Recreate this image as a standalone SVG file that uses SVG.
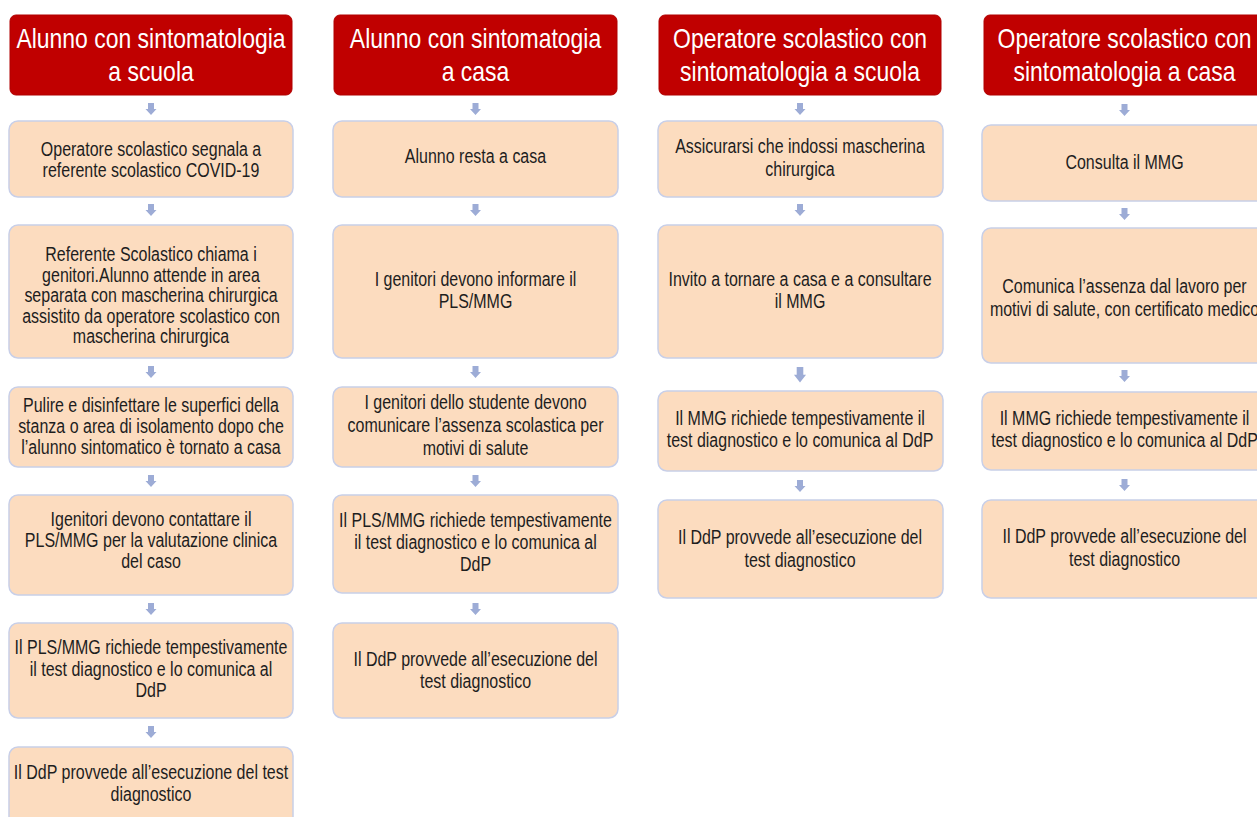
<svg xmlns="http://www.w3.org/2000/svg" xmlns:xlink="http://www.w3.org/1999/xlink" width="1257" height="817" viewBox="0 0 1257 817">
<style>
.hd{fill:#c00000;stroke:#b00000;stroke-width:1}
.bx{fill:#fcdcbf;stroke:#c8cfe8;stroke-width:1.5}
.ht{font-family:"Liberation Sans",Arial,sans-serif;font-size:28px;fill:#ffffff;text-anchor:middle}
.t{font-family:"Liberation Sans",Arial,sans-serif;font-size:19.5px;fill:#1e1e1e;text-anchor:middle}
.ar{fill:#9dacd6}
</style>
<defs>
<path id="arr" d="M-3,0 H3 V6 H5.5 L0,12 L-5.5,6 H-3 Z"/>
</defs>
<rect width="1257" height="817" fill="#ffffff"/>

<g id="connectors" class="ar">
<use xlink:href="#arr" href="#arr" x="151" y="103"/>
<use xlink:href="#arr" href="#arr" x="151" y="204"/>
<use xlink:href="#arr" href="#arr" x="151" y="366"/>
<use xlink:href="#arr" href="#arr" x="151" y="475"/>
<use xlink:href="#arr" href="#arr" x="151" y="603"/>
<use xlink:href="#arr" href="#arr" x="151" y="726"/>
<use xlink:href="#arr" href="#arr" x="475.5" y="103"/>
<use xlink:href="#arr" href="#arr" x="475.5" y="204"/>
<use xlink:href="#arr" href="#arr" x="475.5" y="366"/>
<use xlink:href="#arr" href="#arr" x="475.5" y="475"/>
<use xlink:href="#arr" href="#arr" x="475.5" y="603"/>
<use xlink:href="#arr" href="#arr" x="800" y="103"/>
<use xlink:href="#arr" href="#arr" x="800" y="204"/>
<g transform="translate(800 367) scale(1.1 1.3)"><use xlink:href="#arr" href="#arr"/></g>
<use xlink:href="#arr" href="#arr" x="800" y="480"/>
<use xlink:href="#arr" href="#arr" x="1124.5" y="104"/>
<use xlink:href="#arr" href="#arr" x="1124.5" y="208"/>
<use xlink:href="#arr" href="#arr" x="1124.5" y="370"/>
<use xlink:href="#arr" href="#arr" x="1124.5" y="479"/>
</g>

<!-- Column 1 -->
<g id="h1"><rect class="hd" x="10" y="15" width="282" height="80" rx="6"/>
<text class="ht" transform="translate(151 0) scale(0.82 1)"><tspan x="0" y="48">Alunno con sintomatologia</tspan><tspan x="0" y="81">a scuola</tspan></text></g>
<g id="c1b1"><rect class="bx" x="9" y="121" width="284" height="76" rx="9"/>
<text class="t" transform="translate(151 0) scale(0.82 1)"><tspan x="0" y="156">Operatore scolastico segnala a</tspan><tspan x="0" y="177">referente scolastico COVID-19</tspan></text></g>
<g id="c1b2"><rect class="bx" x="9" y="225" width="284" height="133" rx="9"/>
<text class="t" transform="translate(151 0) scale(0.82 1)"><tspan x="0" y="261">Referente Scolastico chiama i</tspan><tspan x="0" y="282">genitori.Alunno attende in area</tspan><tspan x="0" y="302">separata con mascherina chirurgica</tspan><tspan x="0" y="323">assistito da operatore scolastico con</tspan><tspan x="0" y="343">mascherina chirurgica</tspan></text></g>
<g id="c1b3"><rect class="bx" x="9" y="387" width="284" height="80" rx="9"/>
<text class="t" transform="translate(151 0) scale(0.82 1)"><tspan x="0" y="412">Pulire e disinfettare le superfici della</tspan><tspan x="0" y="433">stanza o area di isolamento dopo che</tspan><tspan x="0" y="454">l’alunno sintomatico è tornato a casa</tspan></text></g>
<g id="c1b4"><rect class="bx" x="9" y="495" width="284" height="100" rx="9"/>
<text class="t" transform="translate(151 0) scale(0.82 1)"><tspan x="0" y="526">Igenitori devono contattare il</tspan><tspan x="0" y="547">PLS/MMG per la valutazione clinica</tspan><tspan x="0" y="568">del caso</tspan></text></g>
<g id="c1b5"><rect class="bx" x="9" y="623" width="284" height="95" rx="9"/>
<text class="t" transform="translate(151 0) scale(0.82 1)"><tspan x="0" y="654">Il PLS/MMG richiede tempestivamente</tspan><tspan x="0" y="676">il test diagnostico e lo comunica al</tspan><tspan x="0" y="697">DdP</tspan></text></g>
<g id="c1b6"><rect class="bx" x="9" y="747" width="284" height="90" rx="9"/>
<text class="t" transform="translate(151 0) scale(0.82 1)"><tspan x="0" y="779">Il DdP provvede all’esecuzione del test</tspan><tspan x="0" y="801">diagnostico</tspan></text></g>

<!-- Column 2 -->
<g id="h2"><rect class="hd" x="334" y="15" width="283" height="80" rx="6"/>
<text class="ht" transform="translate(475.5 0) scale(0.82 1)"><tspan x="0" y="48">Alunno con sintomatogia</tspan><tspan x="0" y="81">a casa</tspan></text></g>
<g id="c2b1"><rect class="bx" x="333" y="121" width="285" height="76" rx="9"/>
<text class="t" transform="translate(475.5 0) scale(0.82 1)"><tspan x="0" y="163">Alunno resta a casa</tspan></text></g>
<g id="c2b2"><rect class="bx" x="333" y="225" width="285" height="133" rx="9"/>
<text class="t" transform="translate(475.5 0) scale(0.82 1)"><tspan x="0" y="286">I genitori devono informare il</tspan><tspan x="0" y="308">PLS/MMG</tspan></text></g>
<g id="c2b3"><rect class="bx" x="333" y="387" width="285" height="80" rx="9"/>
<text class="t" transform="translate(475.5 0) scale(0.82 1)"><tspan x="0" y="409">I genitori dello studente devono</tspan><tspan x="0" y="432">comunicare l’assenza scolastica per</tspan><tspan x="0" y="455">motivi di salute</tspan></text></g>
<g id="c2b4"><rect class="bx" x="333" y="495" width="285" height="98" rx="9"/>
<text class="t" transform="translate(475.5 0) scale(0.82 1)"><tspan x="0" y="527">Il PLS/MMG richiede tempestivamente</tspan><tspan x="0" y="549">il test diagnostico e lo comunica al</tspan><tspan x="0" y="571">DdP</tspan></text></g>
<g id="c2b5"><rect class="bx" x="333" y="623" width="285" height="95" rx="9"/>
<text class="t" transform="translate(475.5 0) scale(0.82 1)"><tspan x="0" y="666">Il DdP provvede all’esecuzione del</tspan><tspan x="0" y="688">test diagnostico</tspan></text></g>

<!-- Column 3 -->
<g id="h3"><rect class="hd" x="659" y="15" width="282" height="80" rx="6"/>
<text class="ht" transform="translate(800 0) scale(0.82 1)"><tspan x="0" y="48">Operatore scolastico con</tspan><tspan x="0" y="81">sintomatologia a scuola</tspan></text></g>
<g id="c3b1"><rect class="bx" x="658" y="121" width="285" height="76" rx="9"/>
<text class="t" transform="translate(800 0) scale(0.82 1)"><tspan x="0" y="153">Assicurarsi che indossi mascherina</tspan><tspan x="0" y="176">chirurgica</tspan></text></g>
<g id="c3b2"><rect class="bx" x="658" y="225" width="285" height="133" rx="9"/>
<text class="t" transform="translate(800 0) scale(0.82 1)"><tspan x="0" y="286">Invito a tornare a casa e a consultare</tspan><tspan x="0" y="308">il MMG</tspan></text></g>
<g id="c3b3"><rect class="bx" x="658" y="391" width="285" height="80" rx="9"/>
<text class="t" transform="translate(800 0) scale(0.82 1)"><tspan x="0" y="425">Il MMG richiede tempestivamente il</tspan><tspan x="0" y="447">test diagnostico e lo comunica al DdP</tspan></text></g>
<g id="c3b4"><rect class="bx" x="658" y="500" width="285" height="98" rx="9"/>
<text class="t" transform="translate(800 0) scale(0.82 1)"><tspan x="0" y="544">Il DdP provvede all’esecuzione del</tspan><tspan x="0" y="567">test diagnostico</tspan></text></g>

<!-- Column 4 -->
<g id="h4"><rect class="hd" x="984" y="15" width="283" height="80" rx="6"/>
<text class="ht" transform="translate(1124.5 0) scale(0.82 1)"><tspan x="0" y="48">Operatore scolastico con</tspan><tspan x="0" y="81">sintomatologia a casa</tspan></text></g>
<g id="c4b1"><rect class="bx" x="982" y="125" width="285" height="76" rx="9"/>
<text class="t" transform="translate(1124.5 0) scale(0.82 1)"><tspan x="0" y="169">Consulta il MMG</tspan></text></g>
<g id="c4b2"><rect class="bx" x="982" y="228" width="285" height="135" rx="9"/>
<text class="t" transform="translate(1124.5 0) scale(0.82 1)"><tspan x="0" y="293">Comunica l’assenza dal lavoro per</tspan><tspan x="0" y="316">motivi di salute, con certificato medico</tspan></text></g>
<g id="c4b3"><rect class="bx" x="982" y="392" width="285" height="78" rx="9"/>
<text class="t" transform="translate(1124.5 0) scale(0.82 1)"><tspan x="0" y="425">Il MMG richiede tempestivamente il</tspan><tspan x="0" y="447">test diagnostico e lo comunica al DdP</tspan></text></g>
<g id="c4b4"><rect class="bx" x="982" y="500" width="285" height="98" rx="9"/>
<text class="t" transform="translate(1124.5 0) scale(0.82 1)"><tspan x="0" y="543">Il DdP provvede all’esecuzione del</tspan><tspan x="0" y="566">test diagnostico</tspan></text></g>
</svg>
